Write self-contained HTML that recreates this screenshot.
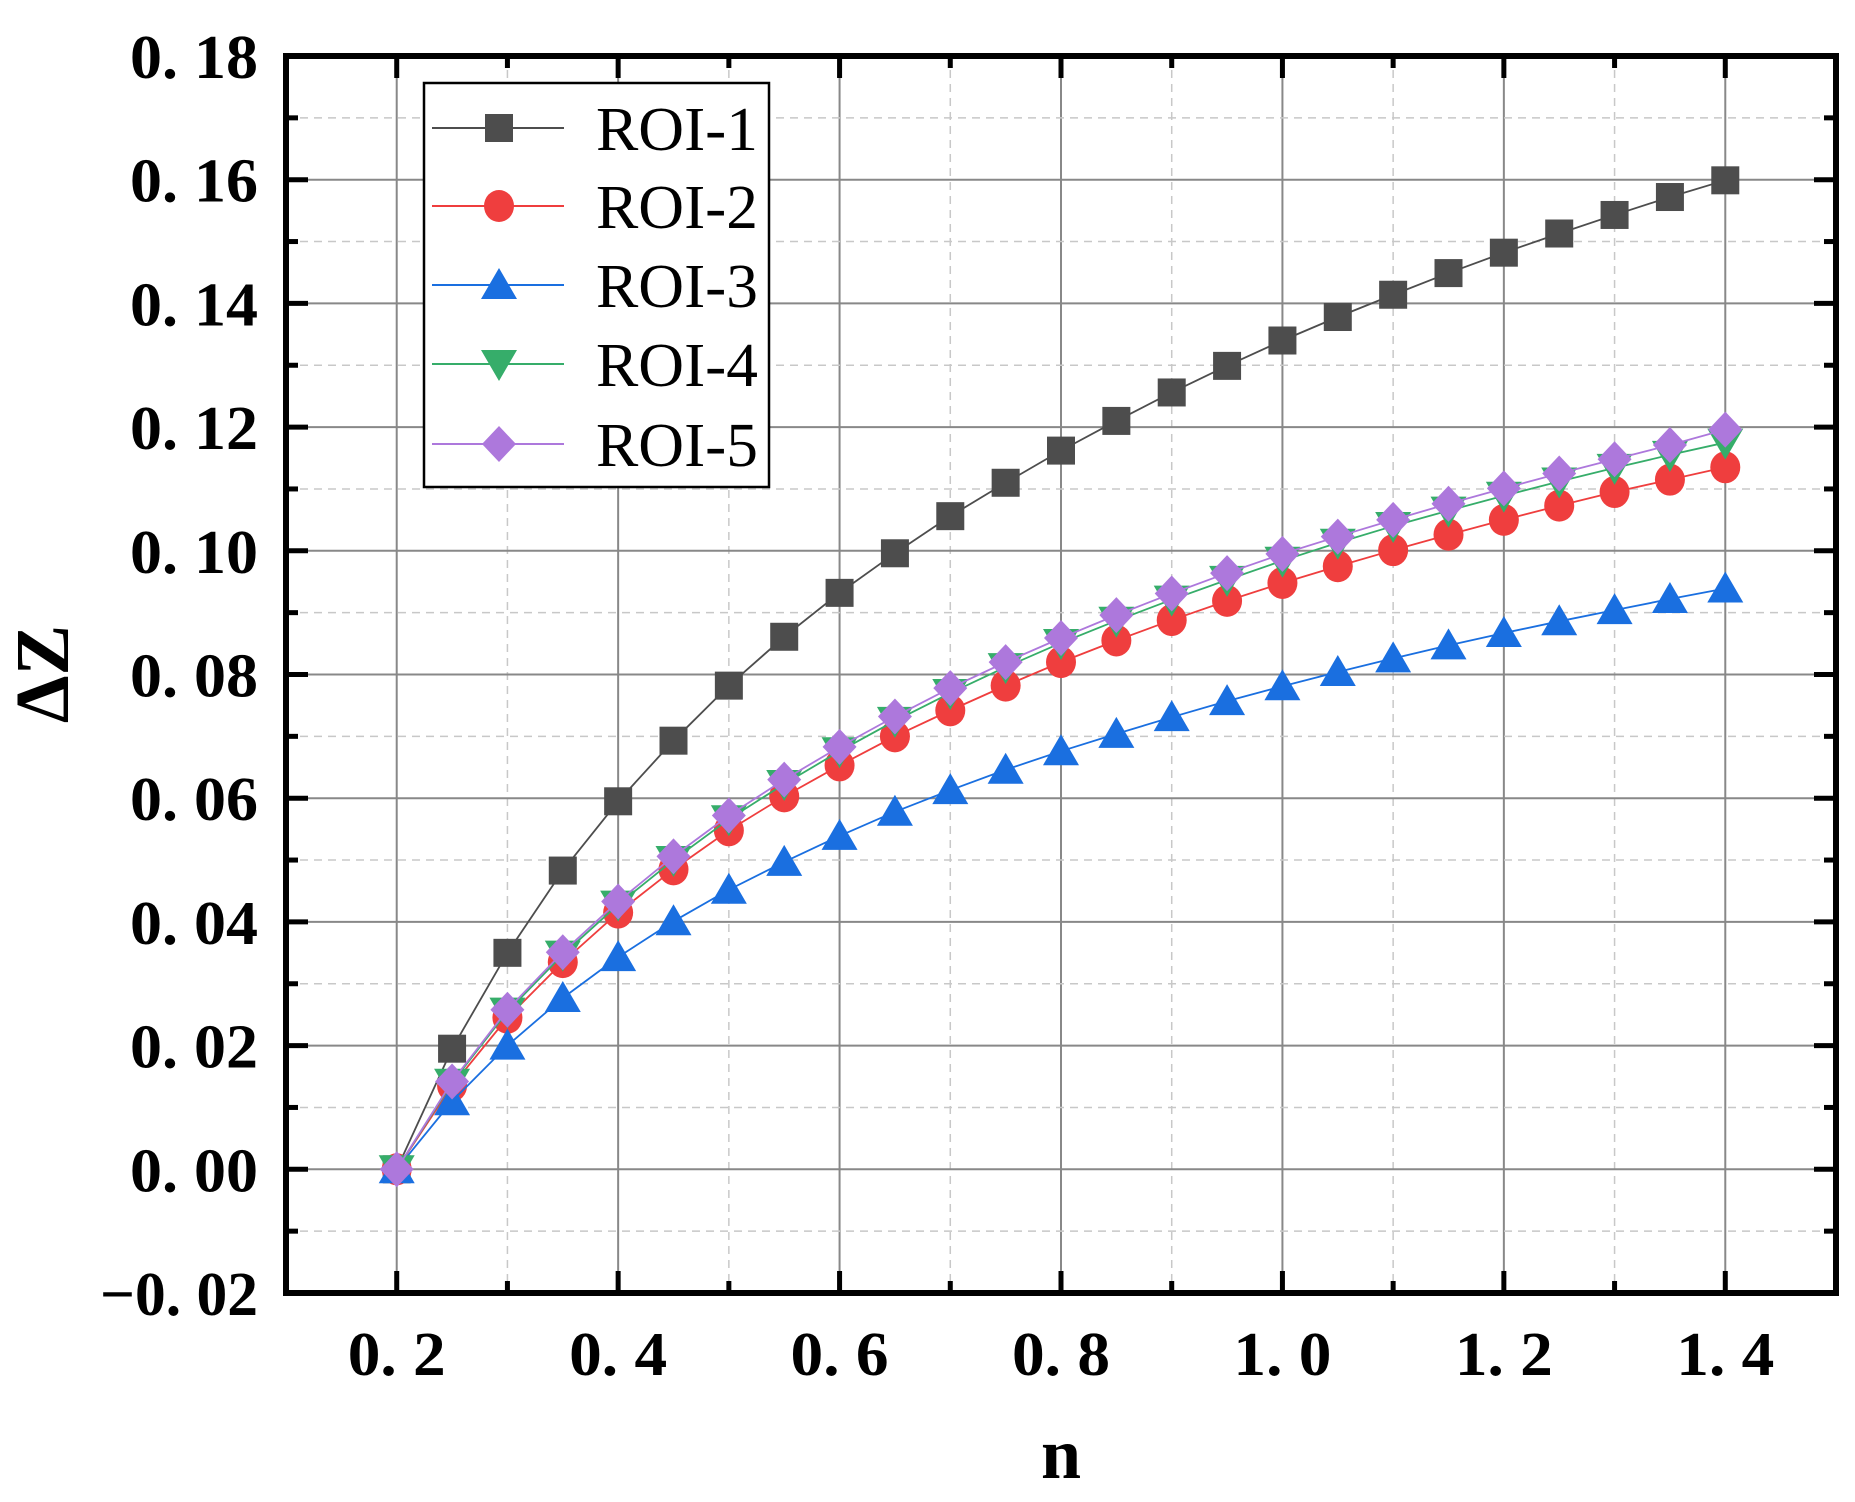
<!DOCTYPE html>
<html><head><meta charset="utf-8"><style>
html,body{margin:0;padding:0;background:#fff;}
svg{display:block;}
text{font-family:"Liberation Serif",serif;fill:#000;}
</style></head><body>
<svg id="chart" width="1855" height="1502" viewBox="0 0 1855 1502" xmlns="http://www.w3.org/2000/svg">
<g id="grid"></g>
<g id="series"></g>
<g id="axes"></g>
<text x="1061" y="1478" font-size="72" font-weight="bold" text-anchor="middle">n</text>
<text transform="translate(68,674) rotate(-90)" font-size="76" font-weight="bold" text-anchor="middle">ΔZ</text>
<g id="legend"></g>
</svg>
<script>
const xValues=[0.2,0.25,0.3,0.35,0.4,0.45,0.5,0.55,0.6,0.65,0.7,0.75,0.8,0.85,0.9,0.95,1.0,1.05,1.1,1.15,1.2,1.25,1.3,1.35,1.4];
const roi1=[0,0.0195,0.035,0.0483,0.0595,0.0693,0.0782,0.0861,0.0932,0.0996,0.1056,0.111,0.1162,0.121,0.1256,0.1299,0.134,0.1378,0.1414,0.1449,0.1482,0.1513,0.1543,0.1572,0.1599];
const roi2=[0,0.0135,0.0245,0.0335,0.0415,0.0485,0.0548,0.0603,0.0653,0.07,0.0742,0.0782,0.082,0.0855,0.0888,0.0919,0.0948,0.0975,0.1001,0.1026,0.105,0.1073,0.1095,0.1115,0.1135];
const roi3=[0,0.011,0.02,0.0277,0.0343,0.0401,0.0452,0.0497,0.0539,0.0578,0.0613,0.0646,0.0676,0.0704,0.0731,0.0757,0.0781,0.0804,0.0826,0.0847,0.0867,0.0886,0.0904,0.0922,0.0939];
const roi4=[0,0.014,0.0255,0.0347,0.0428,0.05,0.0566,0.0623,0.0676,0.0725,0.077,0.0812,0.0851,0.0887,0.0921,0.0953,0.0984,0.1013,0.104,0.1065,0.1089,0.1112,0.1134,0.1155,0.1175];
const roi5=[0,0.0142,0.0258,0.0351,0.0433,0.0506,0.0572,0.063,0.0683,0.0732,0.0778,0.082,0.0859,0.0896,0.0931,0.0964,0.0995,0.1023,0.105,0.1076,0.1101,0.1125,0.1148,0.1171,0.1196];
const seriesNames=["ROI-1","ROI-2","ROI-3","ROI-4","ROI-5"];
const xTicks=[0.2,0.4,0.6,0.8,1.0,1.2,1.4];
const xTickLabels=["0. 2","0. 4","0. 6","0. 8","1. 0","1. 2","1. 4"];
const yTicks=[-0.02,0,0.02,0.04,0.06,0.08,0.1,0.12,0.14,0.16,0.18];
const yTickLabels=["\u22120. 02","0. 00","0. 02","0. 04","0. 06","0. 08","0. 10","0. 12","0. 14","0. 16","0. 18"];

const NS="http://www.w3.org/2000/svg";
const L=286,R=1836,T=56,B=1293;
const X0=0.1,X1=1.5,Y0=-0.02,Y1=0.18;
const sx=v=>L+(v-X0)/(X1-X0)*(R-L);
const sy=v=>B-(v-Y0)/(Y1-Y0)*(B-T);
function mk(tag,attrs,parent){const e=document.createElementNS(NS,tag);for(const k in attrs)e.setAttribute(k,attrs[k]);parent.appendChild(e);return e;}
const grid=document.getElementById('grid'),axes=document.getElementById('axes'),ser=document.getElementById('series'),leg=document.getElementById('legend');

xTicks.forEach((v,i)=>{
  const g=mk('line',{x1:sx(v),x2:sx(v),y1:T,y2:B,stroke:'#888','stroke-width':2},grid);
  
  
  const m=v+0.1;
  if(m<X1){const d=mk('line',{x1:sx(m),x2:sx(m),y1:T,y2:B,stroke:'#c8c8c8','stroke-width':1.5,'stroke-dasharray':'8 6'},grid);
  
  }
});
yTicks.forEach((v,i)=>{
  if(i>0&&i<yTicks.length-1){const g=mk('line',{x1:L,x2:R,y1:sy(v),y2:sy(v),stroke:'#888','stroke-width':2},grid);
  
  }
  const m=v+0.01;
  if(m<Y1){const d=mk('line',{x1:L,x2:R,y1:sy(m),y2:sy(m),stroke:'#c8c8c8','stroke-width':1.5,'stroke-dasharray':'8 6'},grid);
  
  }
});

const fr=mk('rect',{x:L,y:T,width:R-L,height:B-T,fill:'none',stroke:'#000','stroke-width':6},axes);


xTicks.forEach((v,i)=>{
  mk('line',{x1:sx(v),x2:sx(v),y1:B,y2:B-22,stroke:'#000','stroke-width':5},axes);
  mk('line',{x1:sx(v),x2:sx(v),y1:T,y2:T+22,stroke:'#000','stroke-width':5},axes);
  const m=v+0.1;
  if(m<X1){mk('line',{x1:sx(m),x2:sx(m),y1:B,y2:B-12,stroke:'#000','stroke-width':5},axes);
  mk('line',{x1:sx(m),x2:sx(m),y1:T,y2:T+12,stroke:'#000','stroke-width':5},axes);}
  const t=mk('text',{x:sx(v),y:1375,'font-size':62,'font-weight':'bold','text-anchor':'middle',textLength:98,lengthAdjust:'spacingAndGlyphs'},axes);
  t.textContent=xTickLabels[i];
  
  
});
yTicks.forEach((v,i)=>{
  mk('line',{x1:L,x2:L+22,y1:sy(v),y2:sy(v),stroke:'#000','stroke-width':5},axes);
  mk('line',{x1:R,x2:R-22,y1:sy(v),y2:sy(v),stroke:'#000','stroke-width':5},axes);
  const m=v+0.01;
  if(m<Y1){mk('line',{x1:L,x2:L+12,y1:sy(m),y2:sy(m),stroke:'#000','stroke-width':5},axes);
  mk('line',{x1:R,x2:R-12,y1:sy(m),y2:sy(m),stroke:'#000','stroke-width':5},axes);}
  const w=i===0?158:128;
  const t=mk('text',{x:258,y:sy(v)+22,'font-size':62,'font-weight':'bold','text-anchor':'end',textLength:w,lengthAdjust:'spacingAndGlyphs'},axes);
  t.textContent=yTickLabels[i];
  
  
});

const colors=['#4d4d4d','#ef3e3e','#1a6fe0','#36ad6a','#ad78dc'];
function marker(type,cx,cy,color,parent){
  const s=14;
  if(type===0)return mk('rect',{x:cx-s,y:cy-s,width:2*s,height:2*s,fill:color},parent);
  if(type===1)return mk('ellipse',{cx:cx,cy:cy,rx:15,ry:16,fill:color},parent);
  if(type===2)return mk('polygon',{points:`${cx},${cy-17} ${cx-18},${cy+14} ${cx+18},${cy+14}`,fill:color},parent);
  if(type===3)return mk('polygon',{points:`${cx},${cy+17} ${cx-18},${cy-14} ${cx+18},${cy-14}`,fill:color},parent);
  return mk('polygon',{points:`${cx},${cy-18} ${cx-17},${cy} ${cx},${cy+18} ${cx+17},${cy}`,fill:color},parent);
}
const all=[roi1,roi2,roi3,roi4,roi5];
all.forEach((arr,si)=>{
  const g=mk('g',{},ser);
  
  
  const pts=arr.map((v,i)=>sx(xValues[i])+','+sy(v)).join(' ');
  const pl=mk('polyline',{points:pts,fill:'none',stroke:colors[si],'stroke-width':1.8},g);
  
  
  arr.forEach((v,i)=>{
    const m=marker(si,sx(xValues[i]),sy(v),colors[si],g);
    
    
  });
});

const lb=mk('rect',{x:424,y:83,width:345,height:404,fill:'#fff',stroke:'#000','stroke-width':2.5},leg);


const legY=[128,206,285,364,444];
seriesNames.forEach((n,i)=>{
  const g=mk('g',{},leg);
  
  
  mk('line',{x1:432,x2:564,y1:legY[i],y2:legY[i],stroke:colors[i],'stroke-width':2},g);
  marker(i,499,legY[i],colors[i],g);
  const t=mk('text',{x:596,y:legY[i]+22,'font-size':62,textLength:162,lengthAdjust:'spacingAndGlyphs'},g);
  t.textContent=n;
  
  
});
</script>
</body></html>
